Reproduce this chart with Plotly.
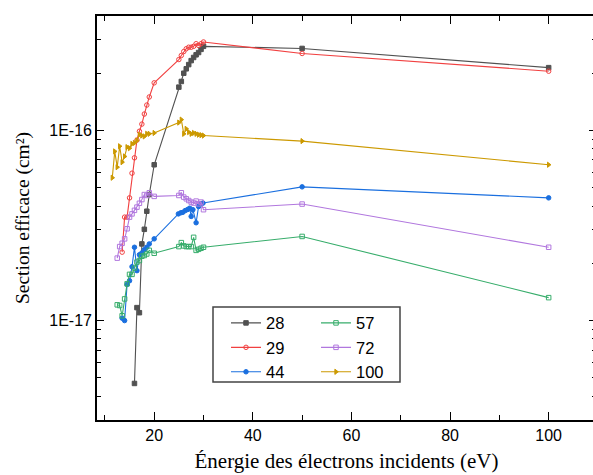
import plotly.graph_objects as go

# ---- data ----
x28 = [16, 16.5, 17, 17.5, 18, 18.5, 19, 20, 25, 25.5, 26, 26.5, 27, 27.5, 28, 28.5, 29, 29.5, 30, 50, 100]
y28 = [4.67e-18, 1.17e-17, 1.1e-17, 2.53e-17, 3.02e-17, 3.76e-17, 4.6e-17, 6.6e-17,
       1.69e-16, 1.81e-16, 2.0e-16, 2.11e-16, 2.22e-16, 2.33e-16, 2.42e-16, 2.5e-16, 2.57e-16, 2.67e-16, 2.77e-16,
       2.7e-16, 2.14e-16]

x29 = [13.5, 14, 14.5, 15, 15.5, 16, 16.5, 17, 17.5, 18, 18.5, 19, 20,
       25, 25.5, 26, 26.5, 27, 27.5, 28, 28.5, 29, 29.5, 30, 50, 100]
y29 = [2.29e-17, 3.5e-17, 3.5e-17, 4.42e-17, 5.96e-17, 7.18e-17, 8.9e-17, 9.9e-17, 1.08e-16, 1.22e-16, 1.36e-16, 1.5e-16, 1.78e-16,
       2.36e-16, 2.48e-16, 2.6e-16, 2.69e-16, 2.74e-16, 2.74e-16, 2.77e-16, 2.86e-16, 2.8e-16, 2.86e-16, 2.92e-16,
       2.54e-16, 2.05e-16]

x44 = [13.5, 14, 14.5, 15, 15.5, 16, 16.5, 17, 17.5, 18, 18.5, 19, 20,
       24.9, 25.4, 25.8, 26.3, 26.8, 27.2, 27.5, 27.85, 28.5, 29.0, 29.5, 29.9, 50, 100]
y44 = [1.03e-17, 1.0e-17, 1.55e-17, 1.62e-17, 1.92e-17, 2.43e-17, 1.83e-17, 2.22e-17, 2.27e-17, 2.36e-17, 2.43e-17, 2.53e-17, 2.69e-17,
       3.64e-17, 3.69e-17, 3.71e-17, 3.79e-17, 3.84e-17, 3.9e-17, 3.53e-17, 3.83e-17, 3.27e-17, 3.98e-17, 4.11e-17, 4.15e-17,
       5.05e-17, 4.42e-17]

x57 = [12.5, 13, 13.5, 14, 14.5, 15, 15.5, 16, 16.5, 17, 17.5, 18, 18.5, 19, 20,
       25, 25.5, 26, 26.5, 27, 27.5, 28, 28.5, 29, 29.5, 30, 50, 100]
y57 = [1.21e-17, 1.2e-17, 1.06e-17, 1.3e-17, 1.56e-17, 1.75e-17, 1.75e-17, 1.89e-17, 2.03e-17, 2.07e-17, 2.18e-17, 2.2e-17, 2.24e-17, 2.34e-17, 2.26e-17,
       2.45e-17, 2.57e-17, 2.47e-17, 2.45e-17, 2.45e-17, 2.45e-17, 2.74e-17, 2.34e-17, 2.37e-17, 2.4e-17, 2.43e-17,
       2.77e-17, 1.32e-17]

x72 = [12.5, 13, 13.5, 14, 14.5, 15, 15.5, 16, 16.5, 17, 17.5, 18, 18.5, 19, 20,
       25, 25.5, 26, 26.5, 27, 27.5, 28, 28.5, 29, 29.5, 30, 50, 100]
y72 = [2.13e-17, 2.45e-17, 2.55e-17, 2.69e-17, 3.04e-17, 3.5e-17, 3.64e-17, 3.8e-17, 3.95e-17, 4.14e-17, 4.33e-17, 4.6e-17, 4.55e-17, 4.7e-17, 4.5e-17,
       4.55e-17, 4.7e-17, 4.46e-17, 4.37e-17, 4.28e-17, 4.2e-17, 4.15e-17, 4.25e-17, 4.11e-17, 4.2e-17, 3.83e-17,
       4.1e-17, 2.43e-17]

x100 = [11.5, 12, 12.5, 13, 13.5, 14, 14.5, 15, 15.5, 16, 16.5, 17, 17.5, 18, 18.5, 19, 20,
        25, 25.5, 26, 26.5, 27, 27.5, 28, 28.5, 29, 29.5, 30, 50, 100]
y100 = [5.64e-17, 7.76e-17, 6.41e-17, 8.26e-17, 6.81e-17, 7.3e-17, 8.17e-17, 8.07e-17, 8.5e-17, 8.6e-17, 8.85e-17, 9.5e-17, 9.4e-17, 9.3e-17, 9.6e-17, 9.6e-17, 9.7e-17,
        1.1e-16, 1.14e-16, 9.6e-17, 1.02e-16, 9.8e-17, 9.6e-17, 9.7e-17, 9.6e-17, 9.5e-17, 9.45e-17, 9.4e-17,
        8.79e-17, 6.6e-17]

x_tick_vals = [20, 40, 60, 80, 100]
y_tick_vals = [1e-17, 1e-16]
y_tick_text = ["1E-17", "1E-16"]
x_title = "Énergie des électrons incidents (eV)"
y_title = "Section efficace (cm²)"

series = [
    ("28", x28, y28, "#515151", "square", "legend"),
    ("29", x29, y29, "#F14040", "circle-open", "legend"),
    ("44", x44, y44, "#1A6FDF", "circle", "legend"),
    ("57", x57, y57, "#37AD6B", "square-open", "legend2"),
    ("72", x72, y72, "#B177DE", "square-open", "legend2"),
    ("100", x100, y100, "#CC9900", "triangle-right", "legend2"),
]

fig = go.Figure()
for name, xs, ys, col, sym, lg in series:
    fig.add_trace(go.Scatter(
        x=xs, y=ys, name=name, mode="lines+markers",
        line=dict(color=col, width=1.1),
        marker=dict(symbol=sym, size=4.5, color=col, line=dict(color=col, width=1)),
        legend=lg,
    ))

minor_y = []
for dec in [1e-18, 1e-17, 1e-16]:
    for m in range(2, 10):
        v = m * dec
        if 3e-18 <= v <= 4e-16:
            minor_y.append(v)

axis_common = dict(
    showline=True, linecolor="black", linewidth=1.6, mirror="allticks",
    ticks="inside", tickcolor="black", showgrid=False, zeroline=False, automargin=False,
    tickfont=dict(family="Liberation Sans, Arial", size=16, color="black"),
)

# plot area spans 97..596 px horizontally (right axis falls just outside the 593 px window)
fig.update_xaxes(
    range=[8.4, 109.6], tickvals=x_tick_vals, ticklen=8, tickwidth=1.4,
    minor=dict(tickvals=[10, 30, 50, 70, 90], ticklen=5, tickwidth=1.2, ticks="inside", tickcolor="black"),
    title=dict(text=x_title, font=dict(family="Liberation Serif, Times New Roman", size=21, color="black"), standoff=10),
    **axis_common,
)
fig.update_yaxes(
    type="log", range=[-17.523, -15.398], tickvals=y_tick_vals, ticktext=y_tick_text,
    ticklen=7, tickwidth=1.4,
    minor=dict(tickvals=minor_y, ticklen=4, tickwidth=1.2, ticks="inside", tickcolor="black"),
    title=dict(text=y_title, font=dict(family="Liberation Serif, Times New Roman", size=19.5, color="black"), standoff=14),
    **axis_common,
)

leg_font = dict(family="Liberation Sans, Arial", size=16.5, color="black")
W = 599
def px2paper(px):
    return (px - 97) / (W - 3 - 97)

fig.update_layout(
    width=W, height=475,
    margin=dict(l=97, r=3, t=16, b=55),
    plot_bgcolor="white", paper_bgcolor="white",
    showlegend=True,
    legend=dict(x=px2paper(226), y=0.283, xanchor="left", yanchor="top", bgcolor="rgba(0,0,0,0)",
                font=leg_font, tracegroupgap=0, itemwidth=30),
    legend2=dict(x=px2paper(316), y=0.283, xanchor="left", yanchor="top", bgcolor="rgba(0,0,0,0)",
                 font=leg_font, tracegroupgap=0, itemwidth=30),
    shapes=[dict(type="rect", xref="paper", yref="paper", x0=px2paper(213), x1=px2paper(400), y0=0.094, y1=0.280,
                 line=dict(color="#444", width=1.5), fillcolor="rgba(0,0,0,0)")],
)

fig.write_html("out.html", config={"displayModeBar": False},
               post_script="document.body.style.margin='0';document.body.style.overflow='hidden';")
